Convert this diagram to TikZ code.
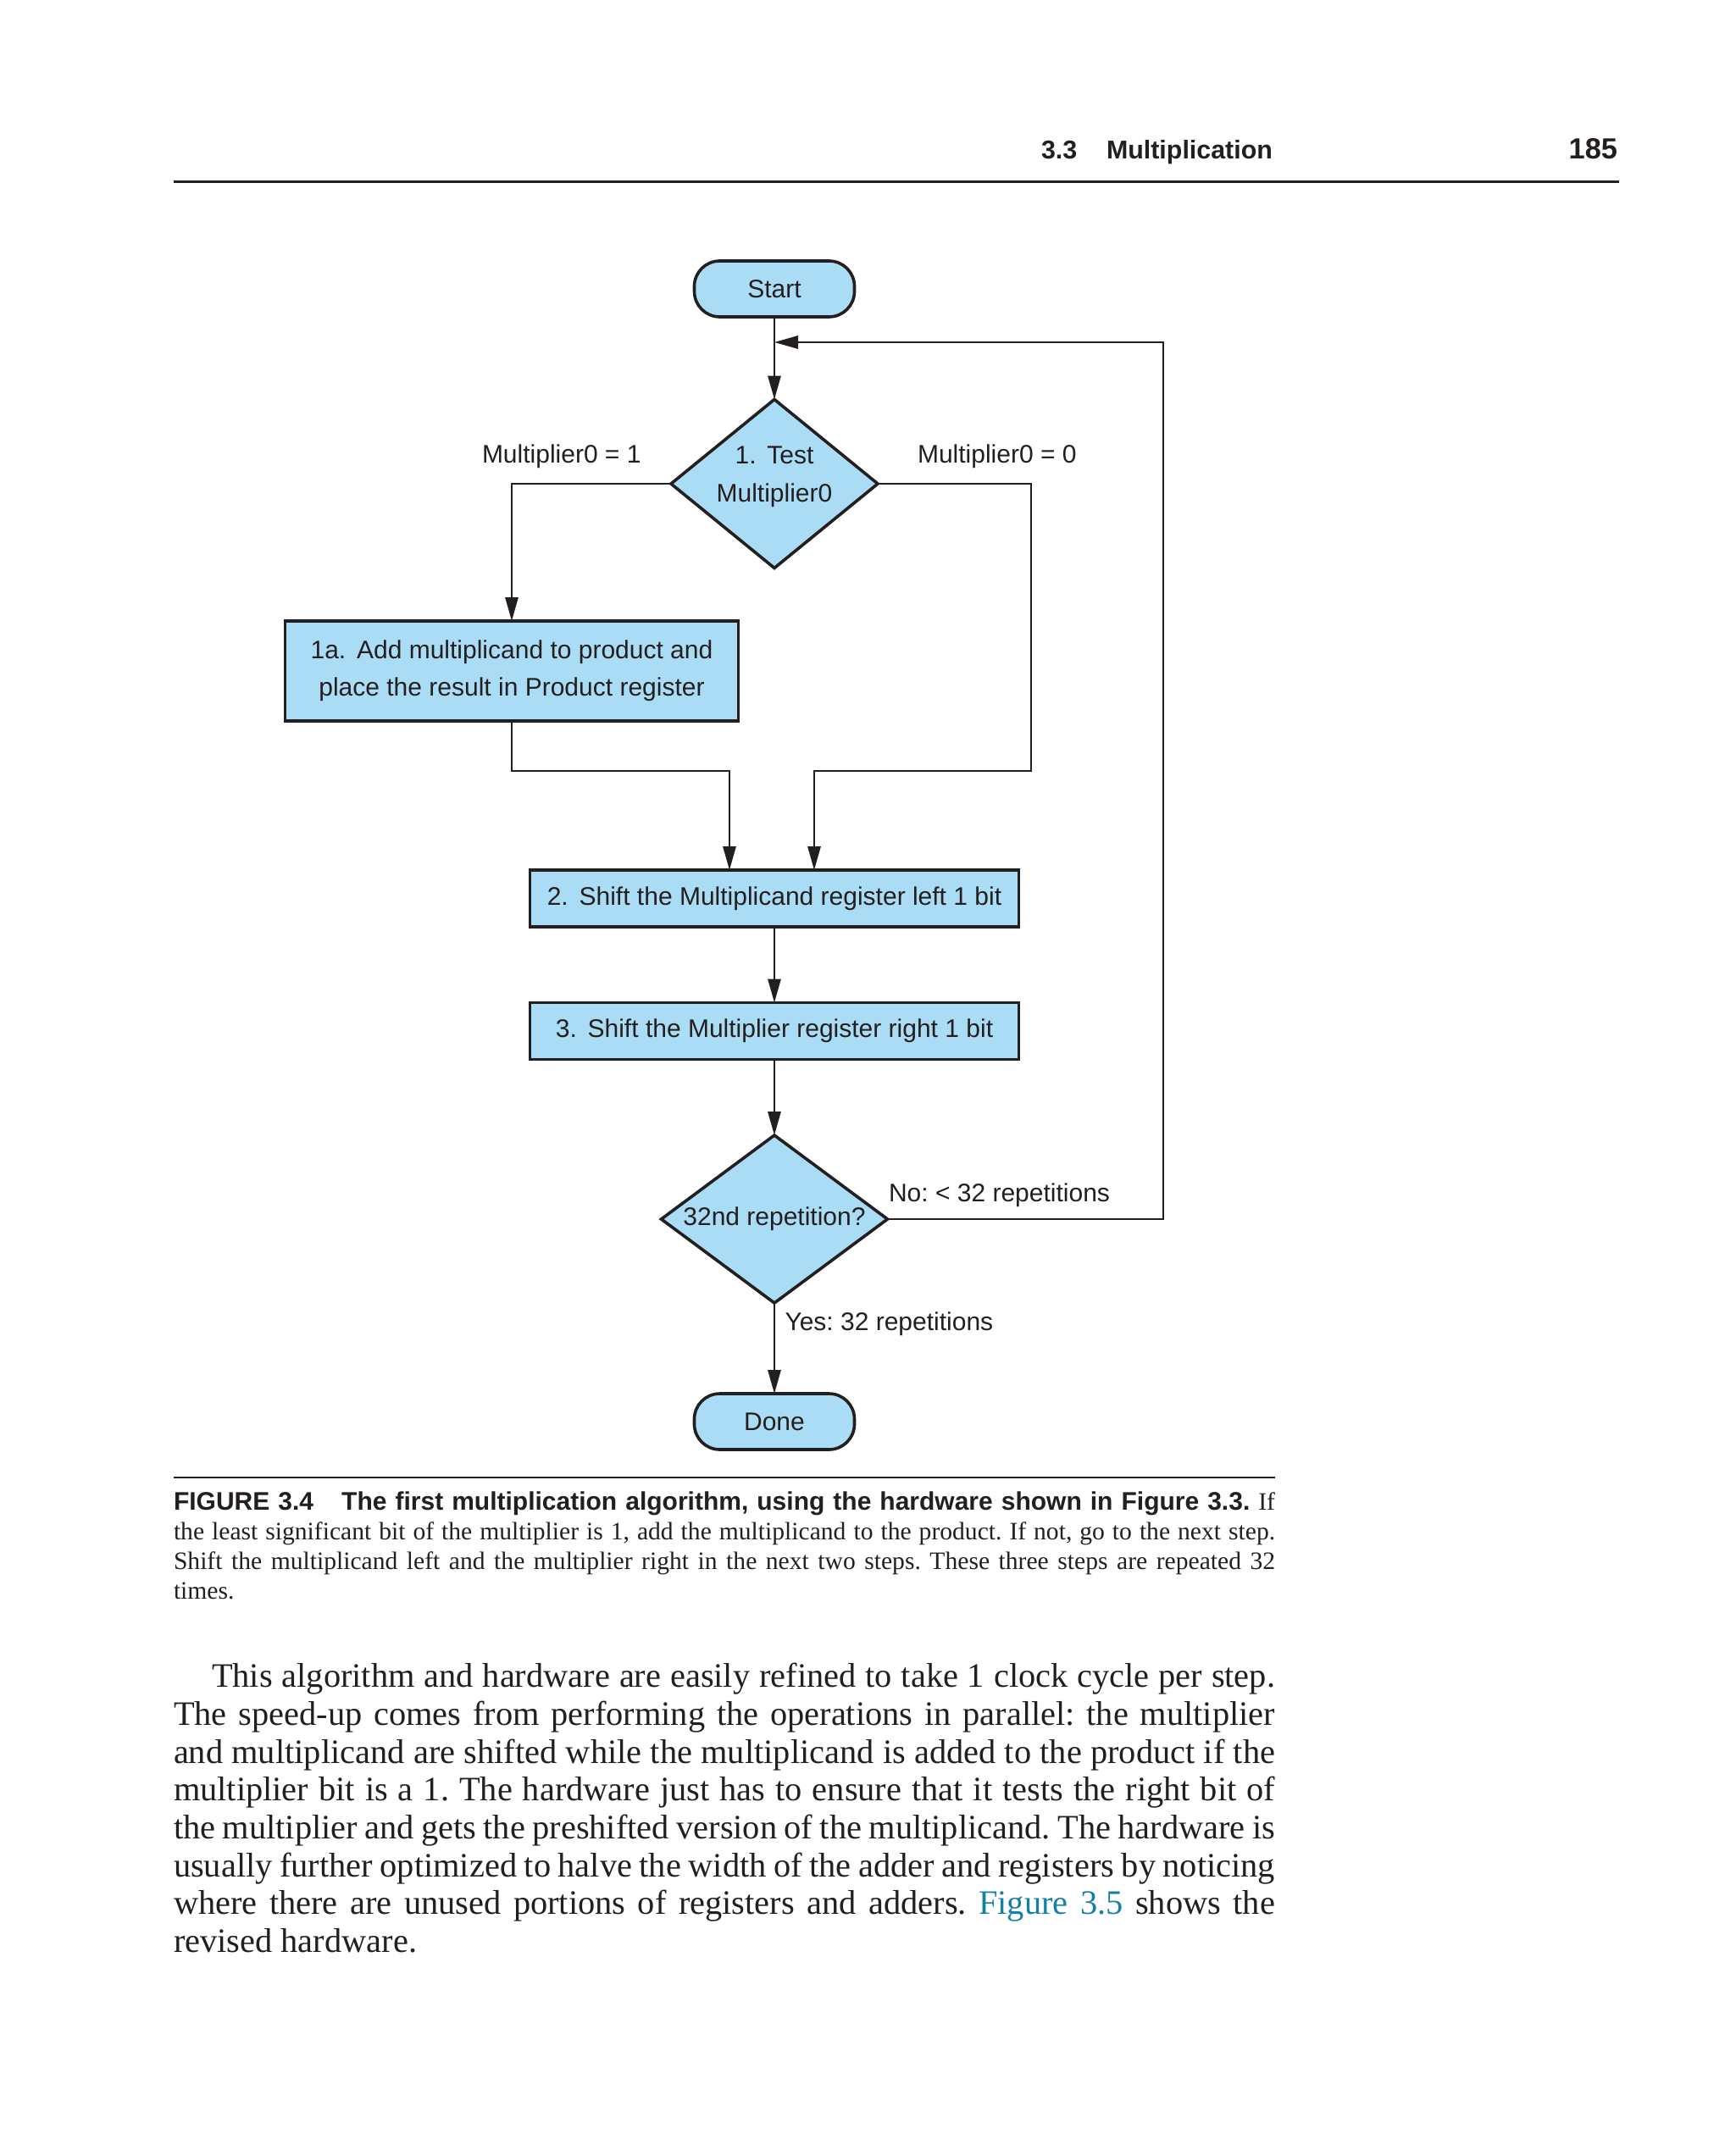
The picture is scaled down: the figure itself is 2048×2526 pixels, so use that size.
\documentclass[tikz,border=0pt]{standalone}
\usepackage{fontspec}
\setmainfont{Liberation Serif}
\newfontfamily\hel{Liberation Sans}
\usetikzlibrary{shapes.geometric,arrows.meta}
\definecolor{boxblue}{RGB}{170,221,245}
\definecolor{ink}{RGB}{35,31,32}
\definecolor{linkc}{RGB}{20,128,166}
\frenchspacing
\newcommand\justline[2]{\hbox to #1{\spaceskip=0.25em plus 0.6em minus 0.1em\relax #2}}
\begin{document}
\begin{tikzpicture}[x=0.25pt,y=-0.25pt,
  every node/.style={inner sep=0pt, outer sep=0pt, text=ink},
  flowbox/.style={draw=ink, line width=0.9pt, fill=boxblue, font=\hel\fontsize{7.5}{11}\selectfont, align=center},
  term/.style={flowbox, rounded corners=7.5pt, minimum width=47.25pt, minimum height=16.5pt},
  proc/.style={flowbox, minimum width=144.25pt, minimum height=16.75pt},
  dia/.style={flowbox, shape=diamond, aspect=1.3},
  lbl/.style={font=\hel\fontsize{7.5}{9}\selectfont, anchor=base west},
  dtext/.style={font=\hel\fontsize{7.5}{11.25}\selectfont, align=center},
  conn/.style={draw=ink, line width=0.6pt, -{Triangle[length=7pt,width=3.8pt]}},
  rulel/.style={draw=ink},
  hdr/.style={font=\hel\bfseries\fontsize{7.6}{9}\selectfont, anchor=base west},
  body/.style={font=\fontsize{10.1}{12}\selectfont, anchor=base west},
  capt/.style={font=\fontsize{7.4}{9}\selectfont, anchor=base west}
]
\useasboundingbox (0,0) rectangle (2048,2526);
\fill[white] (0,0) rectangle (2048,2526);

% running header
\node[hdr] (hsec) at (1229,187.3) {3.3};
\node[hdr] (htitle) at (1306,187.3) {Multiplication};
\node[hdr, anchor=base east, font=\hel\bfseries\fontsize{8.6}{10}\selectfont] (hpage) at (1909,187.3) {185};
\draw[rulel, line width=0.7pt] (205,214.7) -- (1911,214.7);

% flowchart
\node[term] (st) at (914,341) {Start};
\node[dia, minimum width=61pt, minimum height=49.75pt] (d1) at (914,571) {};
\node[dtext] (d1t) at (914,562.5) {1.\hspace{3.2pt}Test\\Multiplier0};
\node[flowbox, minimum width=133.75pt, minimum height=29.5pt] (b1a) at (604,792)
  {1a.\hspace{3.2pt}Add multiplicand to product and\\place the result in Product register};
\node[proc] (b2) at (914,1060.5) {2.\hspace{3.2pt}Shift the Multiplicand register left 1 bit};
\node[proc] (b3) at (914,1217) {3.\hspace{3.2pt}Shift the Multiplier register right 1 bit};
\node[dia, minimum width=66.75pt, minimum height=49.5pt] (d2) at (914,1439) {32nd repetition?};
\node[term] (done) at (914,1678) {Done};

\node[lbl] (l1) at (569,546.7) {Multiplier0 = 1};
\node[lbl] (l0) at (1083,546.7) {Multiplier0 = 0};
\node[lbl] (lno) at (1049,1418.3) {No: < 32 repetitions};
\node[lbl] (lyes) at (926.5,1570) {Yes: 32 repetitions};

\coordinate (ml) at (861,910);
\coordinate (mr) at (961,910);
\coordinate (rr) at (1217,910);
\coordinate (lp) at (1373,404);

\draw[conn] (st.south) -- (d1.north);
\draw[conn] (d1.west) -| (b1a.north);
\draw[conn] (b1a.south) |- (ml) -- (ml |- b2.north);
\draw[conn] (d1.east) -| (rr) -- (mr) -- (mr |- b2.north);
\draw[conn] (b2.south) -- (b3.north);
\draw[conn] (b3.south) -- (d2.north);
\draw[conn] (d2.east) -| (lp) -- (lp -| st.south);
\draw[conn] (d2.south) -- (done.north);

% caption
\draw[rulel, line width=0.5pt] (205,1743.5) -- (1505,1743.5);
\node[capt] (c1) at (205,1782.7) {\justline{325pt}{{\hel\bfseries\fontsize{7.5}{9}\selectfont FIGURE 3.4\hspace{8.3pt}The first multiplication algorithm, using the hardware shown in Figure 3.3.} If}};
\node[capt] (c2) at (205,1817.5) {\justline{325pt}{the least significant bit of the multiplier is 1, add the multiplicand to the product. If not, go to the next step.}};
\node[capt] (c3) at (205,1852.5) {\justline{325pt}{Shift the multiplicand left and the multiplier right in the next two steps. These three steps are repeated 32}};
\node[capt] (c4) at (205,1887.2) {times.};

% body text
\node[body] (p1) at (250,1991.7) {\justline{313.75pt}{This algorithm and hardware are easily refined to take 1 clock cycle per step.}};
\node[body] (p2) at (205,2036.4) {\justline{325pt}{The speed-up comes from performing the operations in parallel: the multiplier}};
\node[body] (p3) at (205,2081.1) {\justline{325pt}{and multiplicand are shifted while the multiplicand is added to the product if the}};
\node[body] (p4) at (205,2125.8) {\justline{325pt}{multiplier bit is a 1. The hardware just has to ensure that it tests the right bit of}};
\node[body] (p5) at (205,2170.5) {\justline{325pt}{the multiplier and gets the preshifted version of the multiplicand. The hardware is}};
\node[body] (p6) at (205,2215.2) {\justline{325pt}{usually further optimized to halve the width of the adder and registers by noticing}};
\node[body] (p7) at (205,2259.9) {\justline{325pt}{where there are unused portions of registers and adders. {\color{linkc}Figure 3.5} shows the}};
\node[body] (p8) at (205,2304.6) {revised hardware.};
\end{tikzpicture}
\end{document}
